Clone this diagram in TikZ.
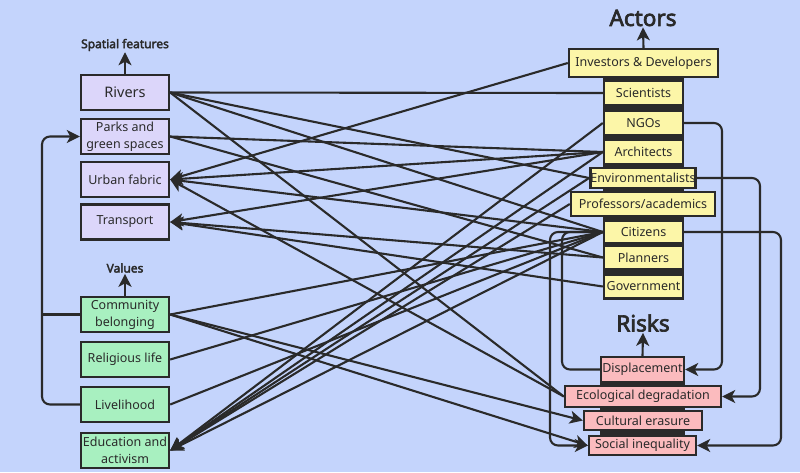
\documentclass[tikz,border=0pt]{standalone}
\usepackage{fontspec}
\setmainfont{Noto Sans}[AutoFakeBold=3]
\usetikzlibrary{arrows.meta}
\definecolor{bg}{HTML}{C4D4FC}
\definecolor{ink}{HTML}{2A2A2A}
\definecolor{spc}{HTML}{DCD6FA}
\definecolor{valc}{HTML}{A8F0C0}
\definecolor{actc}{HTML}{FCF6A8}
\definecolor{riskc}{HTML}{FBBBBE}
\begin{document}
\begin{tikzpicture}[x=1pt,y=-1pt,
  box/.style={draw=ink, line width=2.4pt, inner sep=0pt, text=ink, align=center,
    font=\fontsize{12.5}{17}\selectfont},
  spbox/.style={box, fill=spc, minimum width=88pt, minimum height=35pt},
  valbox/.style={box, fill=valc, minimum width=88pt, minimum height=35pt},
  actbox/.style={box, fill=actc, minimum width=79pt, minimum height=24pt},
  riskbox/.style={box, fill=riskc},
  grouplabel/.style={text=ink, font=\bfseries\fontsize{12}{14}\selectfont, inner sep=1pt},
  biglabel/.style={text=ink, font=\bfseries\fontsize{22.5}{26}\selectfont, inner sep=1pt},
  conn/.style={draw=ink, line width=2.1pt},
  arr/.style={conn, -{Stealth[length=13pt,width=13pt,inset=3.5pt]}},
  loop/.style={rounded corners=8pt}
]
\fill[bg] (0,0) rectangle (800,472);
\useasboundingbox (0,0) rectangle (800,472);

% dark backings of the stacks
\fill[ink] (603,77) rectangle (684,300);
\fill[ink] (600,382) rectangle (685,435);

% group labels
\node[grouplabel] (sf) at (125,45) {Spatial features};
\node[grouplabel] (vl) at (125,268) {Values};
\node[biglabel] (act) at (643,18) {Actors};
\node[biglabel] (rsk) at (643,323) {Risks};

% spatial features
\node[spbox, font=\fontsize{14.5}{17}\selectfont] (riv) at (125,92.5) {Rivers};
\node[spbox] (parks) at (125,136.5) {Parks and\\green spaces};
\node[spbox] (urb) at (125,179.5) {Urban fabric};
\node[spbox] (tra) at (125,222) {Transport};

% values
\node[valbox] (comm) at (125,314.5) {Community\\belonging};
\node[valbox] (rel) at (125,359.5) {Religious life};
\node[valbox] (live) at (125,404.5) {Livelihood};
\node[valbox] (edu) at (125,450.5) {Education and\\activism};

% actors
\node[actbox, minimum width=149pt, minimum height=28pt] (inv) at (643.5,63) {Investors \& Developers};
\node[actbox] (sci) at (643.5,93) {Scientists};
\node[actbox] (ngo) at (643.5,123) {NGOs};
\node[actbox] (arc) at (643.5,152) {Architects};
\node[actbox, minimum width=104pt, minimum height=20pt] (env) at (643,178) {Environmentalists};
\node[actbox, minimum width=144pt] (prof) at (643,204) {Professors/academics};
\node[actbox, minimum height=22pt] (cit) at (643.5,232) {Citizens};
\node[actbox, minimum height=23pt] (pla) at (643.5,257.5) {Planners};
\node[actbox, minimum height=23pt] (gov) at (643.5,286.5) {Government};

% risks
\node[riskbox, minimum width=83pt, minimum height=25pt] (disp) at (642.5,369.5) {Displacement};
\node[riskbox, minimum width=156pt, minimum height=21pt] (eco) at (643,396.5) {Ecological degradation};
\node[riskbox, minimum width=118pt, minimum height=19pt] (cul) at (643,420.5) {Cultural erasure};
\node[riskbox, minimum width=107pt, minimum height=19pt] (soc) at (642.5,445.5) {Social inequality};

% routing coordinates
\coordinate (lx) at (42,0);
\coordinate (nx) at (722,0);
\coordinate (ex) at (760,0);
\coordinate (cx) at (781,0);
\coordinate (dx) at (562,0);
\coordinate (sx) at (550,0);

% group arrows
\draw[arr] (riv.north) -- (sf.south);
\draw[arr] (comm.north) -- (vl.south);
\draw[arr] (inv.north) -- (act.south);
\draw[arr] (disp.north) -- (rsk.south);

% plain links
\draw[conn] (riv.east) -- (sci.west);
\draw[conn] (riv.east) -- (env.west);
\draw[conn] (riv.east) -- (cit.west);
\draw[conn] (riv.east) -- (eco.west);
\draw[conn] (parks.east) -- (arc.west);
\draw[conn] (parks.east) -- (pla.west);
\draw[conn] (comm.east) -- (cit.west);
\draw[conn] (rel.east) -- (cit.west);
\draw[conn] (live.east) -- (cit.west);

% arrows into urban fabric
\draw[arr] (inv.west) -- (urb.east);
\draw[arr] (arc.west) -- (urb.east);
\draw[arr] (cit.west) -- (urb.east);
\draw[arr] (eco.west) -- (urb.east);

% arrows into transport
\draw[arr] (arc.west) -- (tra.east);
\draw[arr] (pla.west) -- (tra.east);
\draw[arr] (gov.west) -- (tra.east);

% arrows into education
\draw[arr] (ngo.west) -- (edu.east);
\draw[arr] (arc.west) -- (edu.east);
\draw[arr] (env.west) -- (edu.east);
\draw[arr] (prof.west) -- (edu.east);
\draw[arr] (cit.west) -- (edu.east);

% community to risks
\draw[arr] (comm.east) -- (cul.west);
\draw[arr] (comm.east) -- (soc.west);

% left loop
\draw[arr, loop] (live.west) -- (live.west -| lx) |- (parks.west);
\draw[conn] (comm.west) -- (comm.west -| lx);

% right loops
\draw[arr, loop] (ngo.east) -- (ngo.east -| nx) |- (disp.east);
\draw[arr, loop] (env.east) -- (env.east -| ex) |- (eco.east);
\draw[arr, loop] (cit.east) -- (cit.east -| cx) |- (soc.east);

% citizens to risks on the left
\draw[conn, loop] (cit.west) -- (cit.west -| dx) |- (disp.west);
\draw[arr, loop] (cit.west) -- (cit.west -| sx) |- (soc.west);
\end{tikzpicture}
\end{document}
